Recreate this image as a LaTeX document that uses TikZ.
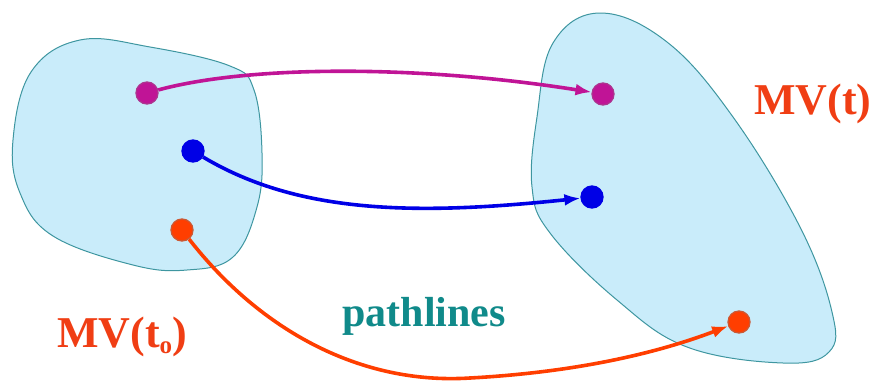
\documentclass[tikz,border=0pt]{standalone}
\usepackage{fontspec}
\setmainfont{Liberation Serif}
\usetikzlibrary{arrows.meta}
\definecolor{regionfill}{RGB}{201,236,250}
\definecolor{regionline}{RGB}{62,150,160}
\definecolor{pmag}{RGB}{192,20,150}
\definecolor{pblue}{RGB}{0,0,230}
\definecolor{pred}{RGB}{255,62,0}
\definecolor{labred}{RGB}{240,62,20}
\definecolor{labteal}{RGB}{16,138,138}
\tikzset{
  region/.style={fill=regionfill, draw=regionline, line width=1pt},
  particle/.style={circle, inner sep=0pt, minimum size=22pt, line width=1.3pt},
  pathline/.style={line width=3.6pt, -{Latex[length=16pt,width=12pt]}},
  bigbold/.style={font=\fontsize{44}{50}\selectfont\bfseries},
}
\begin{document}
\begin{tikzpicture}[x=1pt,y=-1pt]
\useasboundingbox (0,0) rectangle (880,381);

% material volume at t0
\draw[region] plot[smooth cycle, tension=0.65] coordinates {
  (80,40) (150,47) (230,66) (254,90) (262,153) (257,207) (233,257)
  (187,270) (133,265) (53,236) (20,193) (13,140) (31,72)};

% material volume at t
\draw[region] plot[smooth cycle, tension=0.65] coordinates {
  (600,13) (667,42) (733,117) (800,227) (832,312) (829,352) (783,363)
  (687,347) (617,300) (550,233) (532,187) (537,117) (553,43)};

% particles
\node[particle, fill=pmag, draw=pmag!70!gray] (m0) at (147,93) {};
\node[particle, fill=pblue, draw=pblue] (b0) at (193,151) {};
\node[particle, fill=pred, draw=pred!60!gray] (r0) at (182,230) {};
\node[particle, fill=pmag, draw=pmag!70!gray] (m1) at (603,94) {};
\node[particle, fill=pblue, draw=pblue] (b1) at (592,197) {};
\node[particle, fill=pred, draw=pred!60!gray] (r1) at (739,322) {};

% pathlines
\draw[pathline, pmag] (m0) .. controls (250,65) and (420,65) .. (m1);
\draw[pathline, pblue] (b0) .. controls (300,215) and (420,215) .. (b1);
\coordinate (low) at (470,378);
\draw[pathline, pred] (r0) .. controls (260,330) and (360,385) .. (low)
  .. controls (580,372) and (660,352) .. (r1);

% labels
\node[bigbold, text=labred] (mvt) at (813,104) {MV(t)};
\node[bigbold, text=labred, anchor=base] (mvt0) at (122,347)
  {MV(t\raisebox{-0.32ex}{\fontsize{25}{25}\selectfont o})};
\node[bigbold, text=labteal, anchor=base, font=\fontsize{42}{48}\selectfont\bfseries] (pl) at (424,326) {pathlines};
\end{tikzpicture}
\end{document}
